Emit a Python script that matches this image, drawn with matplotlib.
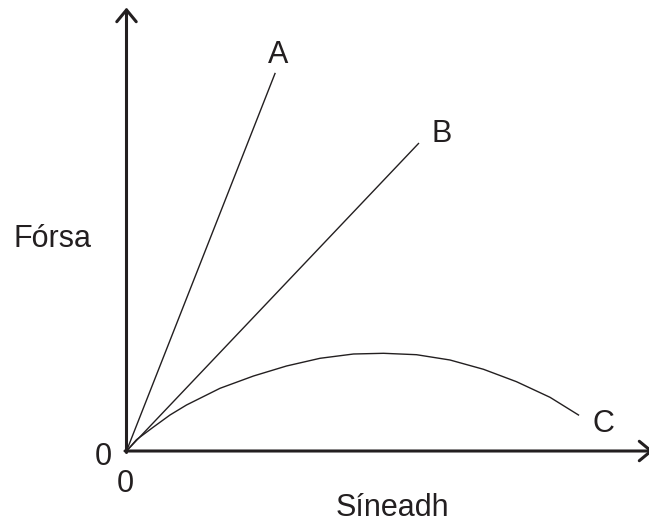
import matplotlib
matplotlib.use("Agg")
import matplotlib.pyplot as plt

plt.rcParams['font.family'] = ['Liberation Sans', 'DejaVu Sans']

# line end points (extension, force), origin at 0,0
line_a = ([0, 148.5], [0, 377.5])
line_b = ([0, 292], [0, 307.5])

# curve C
curve_x = [0, 10, 27, 43.5, 60, 93.5, 127, 160, 193.5, 227, 257, 290, 323.5, 357, 390, 423.5, 452]
curve_y = [0, 11.3, 24, 36, 46, 62.7, 75, 85, 92.7, 97, 97.7, 96.3, 91, 81.7, 69.3, 53.7, 36]

fig = plt.figure(figsize=(6.49, 5.27), dpi=100)
ax = fig.add_axes([0, 0, 1, 1])
ax.set_xlim(-126.5, 649 - 126.5)
ax.set_ylim(451 - 527, 451)
ax.axis('off')

ink = '#231f20'
lw = 1.0
ax.plot(*line_a, color=ink, lw=lw)
ax.plot(*line_b, color=ink, lw=lw)
ax.plot(curve_x, curve_y, color=ink, lw=lw, solid_joinstyle='round')

# axes with open arrow heads
arrow = dict(arrowstyle='->,head_length=0.85,head_width=0.7', color=ink,
             lw=2.2, shrinkA=0, shrinkB=0)
ax.annotate('', xy=(0, 443.5), xytext=(0, -1.5), arrowprops=arrow, annotation_clip=False)
ax.annotate('', xy=(527, 0), xytext=(-1.5, 0), arrowprops=arrow, annotation_clip=False)

fs = 22
ax.text(151.5, 388, 'A', fontsize=fs, ha='center', va='baseline', color=ink)
ax.text(315, 309, 'B', fontsize=fs, ha='center', va='baseline', color=ink)
ax.text(476.5, 19, 'C', fontsize=fs, ha='center', va='baseline', color=ink)
ax.text(-74.5, 204, 'Fórsa', fontsize=fs, ha='center', va='baseline', color=ink)
ax.text(265.5, -65, 'Síneadh', fontsize=fs, ha='center', va='baseline', color=ink)
ax.text(-23, -14, '0', fontsize=fs, ha='center', va='baseline', color=ink)
ax.text(-1.5, -40.5, '0', fontsize=fs, ha='center', va='baseline', color=ink)

fig.savefig('out.png', dpi=100)
